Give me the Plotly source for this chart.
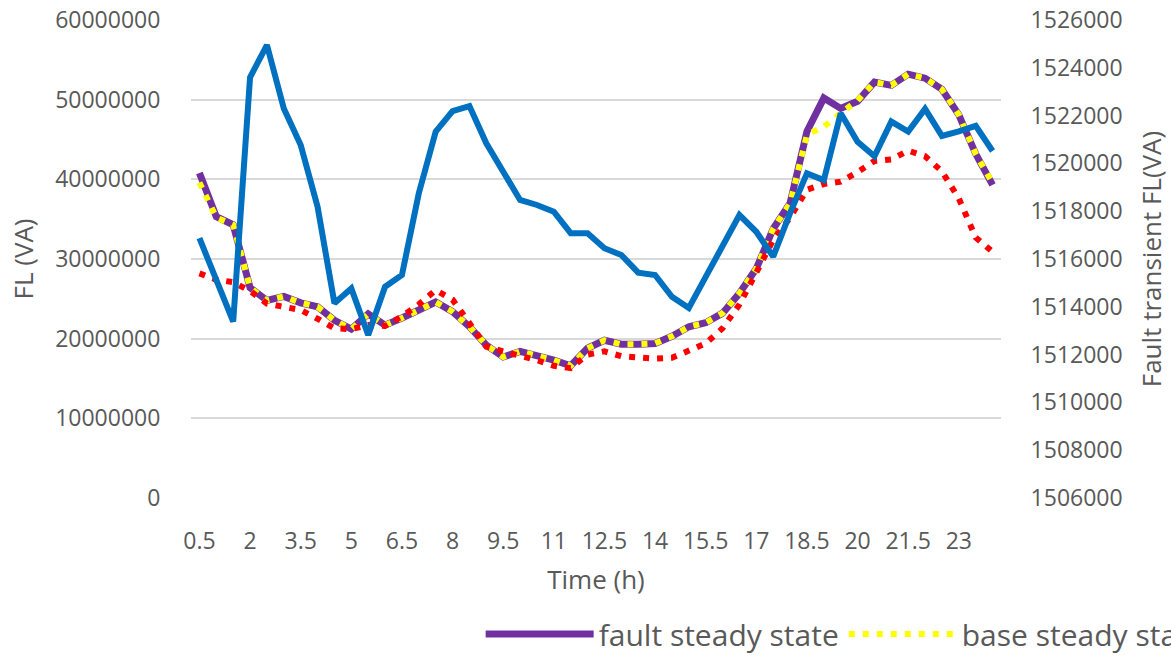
import plotly.graph_objects as go

# Time of day (h), half-hour steps
hours = [0.5, 1.0, 1.5, 2.0, 2.5, 3.0, 3.5, 4.0, 4.5, 5.0, 5.5, 6.0,
         6.5, 7.0, 7.5, 8.0, 8.5, 9.0, 9.5, 10.0, 10.5, 11.0, 11.5, 12.0,
         12.5, 13.0, 13.5, 14.0, 14.5, 15.0, 15.5, 16.0, 16.5, 17.0, 17.5, 18.0,
         18.5, 19.0, 19.5, 20.0, 20.5, 21.0, 21.5, 22.0, 22.5, 23.0, 23.5, 24.0]

# Steady-state fault level, VA (left axis)
fault_steady = [40800000, 35300000, 34300000, 26400000, 24800000, 25300000,
                24500000, 24000000, 22300000, 21200000, 23100000, 21700000,
                22600000, 23600000, 24600000, 23400000, 21500000, 19200000,
                17700000, 18400000, 17900000, 17300000, 16600000, 18800000,
                19800000, 19300000, 19300000, 19400000, 20300000, 21500000,
                22000000, 23200000, 25700000, 28800000, 33800000, 37000000,
                46000000, 50200000, 48900000, 49800000, 52200000, 51800000,
                53200000, 52700000, 51300000, 48100000, 43200000, 39300000]

base_steady = [39600000, 35200000, 34300000, 26400000, 24800000, 25300000,
               24500000, 24000000, 22300000, 21200000, 23100000, 21700000,
               22600000, 23600000, 24600000, 23400000, 21500000, 19200000,
               17700000, 18400000, 17900000, 17300000, 16600000, 18800000,
               19800000, 19300000, 19300000, 19400000, 20300000, 21500000,
               22000000, 23200000, 25700000, 28800000, 33800000, 37000000,
               45600000, 46600000, 48300000, 49900000, 52200000, 51800000,
               53200000, 52700000, 51300000, 48100000, 43200000, 39500000]

base_transient = [28200000, 27400000, 27100000, 26000000, 24400000, 24000000,
                  23600000, 22500000, 21300000, 21200000, 21700000, 21600000,
                  22800000, 24300000, 26100000, 24900000, 22100000, 19000000,
                  18400000, 17900000, 17300000, 16600000, 16300000, 18000000,
                  18400000, 17800000, 17600000, 17500000, 17600000, 18600000,
                  19400000, 21300000, 24300000, 28300000, 32400000, 35200000,
                  38700000, 39400000, 39700000, 40900000, 42300000, 42500000,
                  43600000, 42900000, 41000000, 37600000, 32700000, 30900000]

# Transient fault level, VA (right axis)
fault_transient = [1516870, 1515100, 1513380, 1523600, 1524950, 1522300,
                   1520770, 1518190, 1514150, 1514770, 1512820, 1514840,
                   1515330, 1518750, 1521330, 1522190, 1522400, 1520840,
                   1519640, 1518470, 1518260, 1517980, 1517080, 1517080,
                   1516450, 1516170, 1515430, 1515330, 1514420, 1513950,
                   1515250, 1516540, 1517840, 1517140, 1516100, 1517920,
                   1519580, 1519300, 1522100, 1520900, 1520300, 1521750,
                   1521330, 1522280, 1521150, 1521340, 1521570, 1520520]

x_tick_vals = [0.5, 2, 3.5, 5, 6.5, 8, 9.5, 11, 12.5, 14, 15.5, 17, 18.5, 20, 21.5, 23]
x_tick_text = ["0.5", "2", "3.5", "5", "6.5", "8", "9.5", "11", "12.5", "14",
               "15.5", "17", "18.5", "20", "21.5", "23"]

FONT = "Open Sans"
GREY = "#595959"
CLEAR = "rgba(0,0,0,0)"

fig = go.Figure()

fig.add_trace(go.Scatter(
    x=hours, y=fault_steady, name="fault steady state", mode="lines",
    line=dict(color="#7030A0", width=7), yaxis="y"))
fig.add_trace(go.Scatter(
    x=hours, y=base_steady, name="base steady state", mode="lines",
    line=dict(color="#FFFF00", width=6, dash="6px,8px"), yaxis="y"))
fig.add_trace(go.Scatter(
    x=hours, y=base_transient, name="base transient", mode="lines",
    line=dict(color="#FF0000", width=6, dash="6px,8px"), yaxis="y",
    showlegend=False))
fig.add_trace(go.Scatter(
    x=hours, y=fault_transient, name="fault transient", mode="lines",
    line=dict(color="#0070C0", width=6), yaxis="y2", showlegend=False))

fig.update_layout(
    width=1171, height=655,
    margin=dict(l=191, r=170, t=20, b=157, autoexpand=False),
    paper_bgcolor="white", plot_bgcolor="white",
    font=dict(family=FONT, color=GREY, size=23),
    xaxis=dict(
        range=[0.25, 24.25], tickmode="array", tickvals=x_tick_vals,
        ticktext=x_tick_text, showgrid=False, zeroline=False, showline=False,
        ticks="outside", ticklen=22, tickcolor=CLEAR,
        tickfont=dict(size=23, color=GREY),
        title=dict(text="Time (h)", font=dict(size=26, color=GREY), standoff=16),
    ),
    yaxis=dict(
        range=[0, 60000000], dtick=10000000, tickformat="d",
        showgrid=True, gridcolor="#D9D9D9", gridwidth=2, zeroline=False,
        showline=False, ticks="outside", ticklen=25, tickcolor=CLEAR,
        tickfont=dict(size=23, color=GREY),
        title=dict(text="FL (VA)", font=dict(size=26, color=GREY), standoff=14),
    ),
    yaxis2=dict(
        range=[1506000, 1526000], dtick=2000, tickformat="d",
        overlaying="y", side="right", showgrid=False, zeroline=False,
        showline=False, ticks="outside", ticklen=24, tickcolor=CLEAR,
        tickfont=dict(size=23, color=GREY),
        title=dict(text="Fault transient FL(VA)", font=dict(size=26, color=GREY),
                   standoff=21),
    ),
    legend=dict(
        orientation="h", x=0.3576, xanchor="left", y=-0.23, yanchor="top",
        font=dict(size=30, color=GREY), itemwidth=108,
        bgcolor=CLEAR, traceorder="normal",
    ),
    showlegend=True,
)

fig.write_html("out.html")
